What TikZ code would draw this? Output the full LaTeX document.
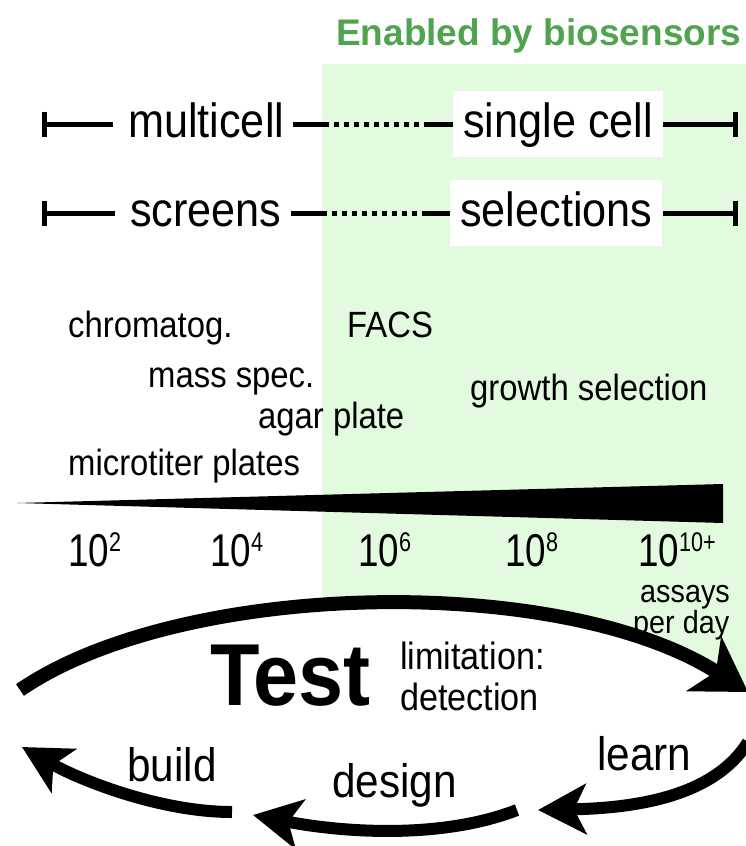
\documentclass[tikz,border=0pt]{standalone}
\usepackage{fontspec}
\setmainfont{Liberation Sans}
\usetikzlibrary{arrows.meta}
\definecolor{bggreen}{RGB}{226,251,222}
\definecolor{titlegreen}{RGB}{80,164,80}
\newcommand{\fsz}[1]{\fontsize{#1}{#1}\selectfont}
\newcommand{\sqz}[2][0.9]{\scalebox{#1}[1]{#2}}
\newcommand{\tenp}[1]{10\raisebox{15pt}{\fsz{27}#1}}
\begin{document}
\begin{tikzpicture}[x=1pt,y=-1pt,
  txt/.style={inner sep=0pt, anchor=base west},
  rowtxt/.style={txt, font=\fsz{48}},
  rowbox/.style={rowtxt, fill=white, inner xsep=10pt, inner ysep=0pt, text height=46pt, text depth=20pt},
  midtxt/.style={txt, font=\fsz{36.5}},
  numtxt/.style={txt, font=\fsz{46}},
  smalltxt/.style={txt, font=\fsz{32}},
  limtxt/.style={txt, font=\fsz{38}},
  cyctxt/.style={txt, font=\fsz{47}},
  bar/.style={line width=5pt},
  dotbar/.style={bar, dash pattern=on 36pt off 5pt on 5pt off 5pt on 5pt off 5pt on 5pt off 5pt on 5pt off 5pt on 5pt off 5pt on 5pt off 5pt on 5pt off 5pt on 5pt off 5pt on 5pt off 5pt on 80pt},
  bigarrow/.style={line width=14pt, -{Stealth[length=52pt,width=64pt,inset=14pt]}},
  smallarrow/.style={line width=12pt, -{Stealth[length=48pt,width=50pt,inset=12pt]}}
]
\useasboundingbox (0,0) rectangle (746,846);

% green region above the Test arc
\begin{scope}
  \clip (20,690) .. controls (180,580) and (560,572) .. (748,692) -- (760,692) -- (760,-10) -- (0,-10) -- cycle;
  \fill[bggreen] (322,64) rectangle (746,846);
\end{scope}

\node[txt, font=\bfseries\fsz{37}, text=titlegreen] (title) at (336,45) {Enabled by biosensors};

% row 1
\coordinate (l1) at (44,124);
\coordinate (r1) at (735,124);
\node[rowtxt] (multi) at (128,137) {\sqz{multicell}};
\node[rowbox] (single) at (453,137) {\sqz{single cell}};
\draw[bar] ([yshift=12.5pt]l1) -- ([yshift=-12.5pt]l1);
\draw[bar] (l1) -- ([xshift=-15pt]multi.west |- l1);
\draw[dotbar] ([xshift=9pt]multi.east |- l1) -- (single.west |- l1);
\draw[bar] (single.east |- r1) -- (r1);
\draw[bar] ([yshift=12.5pt]r1) -- ([yshift=-12.5pt]r1);

% row 2
\coordinate (l2) at (44,213);
\coordinate (r2) at (735,213);
\node[rowtxt] (screens) at (130,226) {\sqz{screens}};
\node[rowbox] (select) at (450,226) {\sqz{selections}};
\draw[bar] ([yshift=12.5pt]l2) -- ([yshift=-12.5pt]l2);
\draw[bar] (l2) -- ([xshift=-15pt]screens.west |- l2);
\draw[dotbar] ([xshift=9pt]screens.east |- l2) -- (select.west |- l2);
\draw[bar] (select.east |- r2) -- (r2);
\draw[bar] ([yshift=12.5pt]r2) -- ([yshift=-12.5pt]r2);

% methods
\node[midtxt] (chrom) at (68,337) {\sqz{chromatog.}};
\node[midtxt] (facs) at (347,337) {\sqz{FACS}};
\node[midtxt] (mass) at (148,387) {\sqz{mass spec.}};
\node[midtxt] (growth) at (470,400) {\sqz{growth selection}};
\node[midtxt] (agar) at (258,428) {\sqz{agar plate}};
\node[midtxt] (micro) at (68,475) {\sqz{microtiter plates}};

% wedge
\fill (17,503) -- (723,484) -- (723,523) -- cycle;

% scale
\node[numtxt] (n2) at (68,566) {\sqz[0.8]{\tenp{2}}};
\node[numtxt] (n4) at (210,566) {\sqz[0.8]{\tenp{4}}};
\node[numtxt] (n6) at (358,566) {\sqz[0.8]{\tenp{6}}};
\node[numtxt] (n8) at (505,566) {\sqz[0.8]{\tenp{8}}};
\node[numtxt] (n10) at (638,566) {\sqz[0.8]{\tenp{10+}}};
\node[smalltxt] (assays) at (640,602) {\sqz{assays}};
\node[smalltxt] (perday) at (633,633) {\sqz{per day}};

% Test
\node[txt, font=\bfseries\fsz{88}] (test) at (210,705) {\sqz[0.92]{Test}};
\node[limtxt] (lim) at (400,669) {\sqz{limitation:}};
\node[limtxt] (det) at (400,710) {\sqz{detection}};
\coordinate (testL) at (20,690);
\coordinate (testR) at (748,692);
\draw[bigarrow] (testL) .. controls (180,580) and (560,572) .. (testR);

% cycle
\node[cyctxt] (learn) at (597,770) {\sqz{learn}};
\node[cyctxt] (design) at (332,797) {\sqz{design}};
\node[cyctxt] (build) at (127,781) {\sqz{build}};
\coordinate (learnS) at (748,742);
\coordinate (learnE) at (538,810);
\coordinate (designS) at (517,810);
\coordinate (designE) at (253,815);
\coordinate (buildS) at (232,812);
\coordinate (buildE) at (22,747);
\draw[smallarrow] (learnS) .. controls (715,795) and (640,808) .. (learnE);
\draw[smallarrow] (designS) .. controls (440,840) and (340,832) .. (designE);
\draw[smallarrow] (buildS) .. controls (160,812) and (80,780) .. (buildE);
\end{tikzpicture}
\end{document}
